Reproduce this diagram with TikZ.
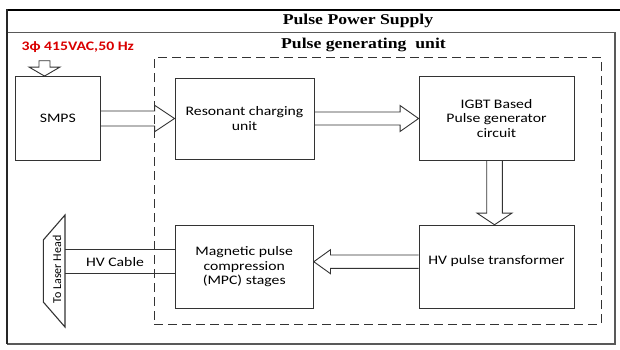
\documentclass[tikz,border=0pt]{standalone}
\usepackage{fontspec}
\setmainfont{Carlito}[FakeStretch=1.21]
\newfontfamily\plainfont{Carlito}
\newfontfamily\titlefont{Liberation Serif}[FakeStretch=1.18]
\usetikzlibrary{calc}

\begin{document}
\begin{tikzpicture}[x=1pt, y=-1pt,
  blk/.style={draw=black!80, line width=0.9pt, align=center, inner sep=2pt, font=\fontsize{13}{14.5}\selectfont},
  zone/.style={draw=black!80, line width=0.9pt, dash pattern=on 9pt off 5pt},
  hollow/.style={draw=black!80, line width=0.9pt, line join=miter},
  frame/.style={draw=black!65, line width=1.3pt},
  ttl/.style={font=\titlefont\bfseries\fontsize{15}{17}\selectfont},
  lab/.style={font=\fontsize{13}{14.5}\selectfont}
]
  \useasboundingbox (0,0) rectangle (620,349);

  % outer frame and titles
  \draw[black, line width=2.2pt] (7,10) -- (620,10);
  \draw[frame] (7,32.7) -- (615,32.7) -- (615,344) -- (7,344);
  \draw[black!85, line width=1.8pt] (7,9) -- (7,344);
  \node[ttl] (pps) at (358,21) {Pulse Power Supply};
  \node[ttl] (pgu) at (363.5,44.5) {Pulse generating\ \ unit};
  \node[zone, minimum width=447pt, minimum height=266.5pt] (zone) at (377.5,190.75) {};

  % blocks
  \node[blk, minimum width=85.7pt, minimum height=84pt] (smps) at (57.8,118.5) {SMPS};
  \node[blk, minimum width=139pt, minimum height=81pt] (res) at (244.5,118.5) {Resonant charging\\unit};
  \node[blk, minimum width=155pt, minimum height=84pt] (igbt) at (496.5,118.5) {IGBT Based\\Pulse generator\\circuit};
  \node[blk, minimum width=155pt, minimum height=83pt, text depth=12.7pt] (hvt) at (496.5,266.7) {HV pulse transformer};
  \node[blk, minimum width=138.3pt, minimum height=83pt] (mpc) at (244.2,266.7) {Magnetic pulse\\compression\\(MPC) stages};

  % supply input
  \node[lab, text=red!85!black, font=\bfseries\fontsize{13}{14.5}\selectfont] (ac) at (77.8,47) {3ϕ 415VAC,50 Hz};
  \coordinate (acin) at (44.5,60.7);
  \coordinate (acend) at (acin |- smps.north);
  \draw[hollow] ($(acin)+(-5.5,0)$) -- ($(acend)+(-5.5,-9)$) -- ($(acend)+(-15.5,-9)$) -- (acend)
    -- ($(acend)+(15.5,-9)$) -- ($(acend)+(5.5,-9)$) -- ($(acin)+(5.5,0)$) -- cycle;

  % hollow arrows between blocks
  \draw[hollow] ($(smps.east)+(0,-7.5)$) -- ($(res.west)+(-20,-7.5)$) -- ($(res.west)+(-20,-13.3)$) -- (res.west)
    -- ($(res.west)+(-20,13.3)$) -- ($(res.west)+(-20,7.5)$) -- ($(smps.east)+(0,7.5)$);
  \draw[hollow] ($(res.east)+(0,-6.5)$) -- ($(igbt.west)+(-18.5,-6.5)$) -- ($(igbt.west)+(-18.5,-13)$) -- (igbt.west)
    -- ($(igbt.west)+(-18.5,13)$) -- ($(igbt.west)+(-18.5,6.5)$) -- ($(res.east)+(0,6.5)$);
  \draw[hollow] ($(igbt.south)+(-9.8,0)$) -- ($(hvt.north)+(-9.8,-11.7)$) -- ($(hvt.north)+(-19.5,-11.7)$) -- ($(hvt.north)+(-2,0)$)
    -- ($(hvt.north)+(15.5,-11.7)$) -- ($(hvt.north)+(5.8,-11.7)$) -- ($(igbt.south)+(5.8,0)$);
  \draw[hollow] ($(hvt.west)+(0,-11.7)$) -- ($(mpc.east)+(16.7,-11.7)$) -- ($(mpc.east)+(16.7,-17)$) -- ($(mpc.east)+(0,-5)$)
    -- ($(mpc.east)+(16.7,7)$) -- ($(mpc.east)+(16.7,1.7)$) -- ($(hvt.west)+(0,1.7)$);

  % laser head and HV cable
  \coordinate (lh1) at (65,215);
  \coordinate (lh2) at (43.3,240);
  \coordinate (lh3) at (43.3,302);
  \coordinate (lh4) at (65,327);
  \draw[hollow, line width=1.1pt] (lh1) -- (lh2) -- (lh3) -- (lh4) -- cycle;
  \node[rotate=90, font=\plainfont\fontsize{12}{14}\selectfont] (lh) at (57,269.5) {To Laser Head};
  \draw[hollow] (mpc.west |- 0,249.3) -- (lh1 |- 0,249.3);
  \draw[hollow] (mpc.west |- 0,273.3) -- (lh1 |- 0,273.3);
  \node[lab] (cable) at (115,262.5) {HV Cable};
\end{tikzpicture}
\end{document}
